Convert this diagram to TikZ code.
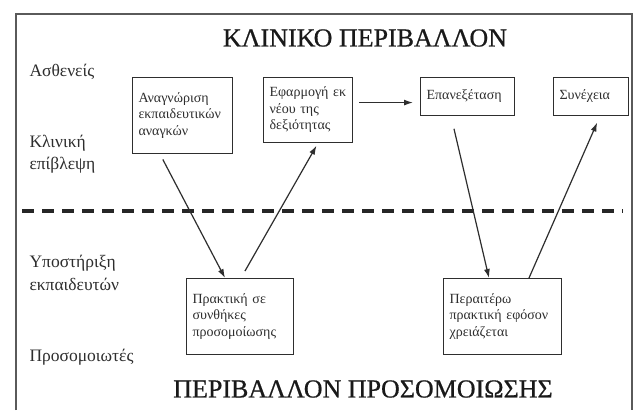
\documentclass[tikz,border=0pt]{standalone}
\usepackage{fontspec}
\setmainfont{Liberation Serif}
\newfontfamily\headfont[FakeBold=0.6]{Liberation Serif}
\usepackage{xcolor}
\usetikzlibrary{arrows.meta,calc}

\definecolor{inkgray}{HTML}{2E2E2E}
\definecolor{framegray}{HTML}{5A5A5A}

\tikzset{
    stage/.style={draw=inkgray, line width=1.1pt, rectangle, anchor=north west,
        align=left, inner xsep=6pt, text=inkgray, font=\fontsize{14}{16.5}\selectfont},
    sidelabel/.style={anchor=west, align=left, text=inkgray, font=\fontsize{17.5}{22.5}\selectfont},
    envtitle/.style={text=black!90, font=\headfont\fontsize{26}{30}\selectfont},
    flow/.style={draw=inkgray, line width=1.2pt, -{Latex[length=9pt,width=6pt]}}
}

\begin{document}
\begin{tikzpicture}[x=1pt, y=-1pt]
    \useasboundingbox (0,0) rectangle (635,410);
    \fill[white] (0,0) rectangle (635,410);

    % Frame
    \draw[framegray, line width=2pt] (16,410) -- (16,14) -- (632,14) -- (632,410);

    % Environments
    \node[envtitle] (clinic) at (365,38) {ΚΛΙΝΙΚΟ ΠΕΡΙΒΑΛΛΟΝ};
    \node[envtitle] (simenv) at (363,389) {ΠΕΡΙΒΑΛΛΟΝ ΠΡΟΣΟΜΟΙΩΣΗΣ};
    \draw[black!85, line width=4pt, dash pattern=on 12pt off 8pt] (22,211) -- (623,211);

    % Side labels
    \node[sidelabel] (patients) at (26,72) {Ασθενείς};
    \node[sidelabel] (supervision) at (26,154) {Κλινική\\επίβλεψη};
    \node[sidelabel] (trainers) at (26,273) {Υποστήριξη\\εκπαιδευτών};
    \node[sidelabel] (simulators) at (26,357) {Προσομοιωτές};

    % Stages
    \node[stage, text width=88pt, minimum height=76pt] (needs) at (132,77) {Αναγνώριση\\εκπαιδευτικών\\αναγκών};
    \node[stage, text width=77pt, minimum height=65pt] (apply) at (263,77) {Εφαρμογή εκ\\νέου της\\δεξιότητας};
    \node[stage, text width=82pt, minimum height=38pt] (review) at (420,77) {Επανεξέταση};
    \node[stage, text width=63pt, minimum height=38pt] (cont) at (553,77) {Συνέχεια};
    \node[stage, text width=95pt, minimum height=76pt] (practice) at (186,278) {Πρακτική σε\\συνθήκες\\προσομοίωσης};
    \node[stage, text width=106pt, minimum height=76pt] (further) at (443,278) {Περαιτέρω\\πρακτική εφόσον\\χρειάζεται};

    % Flow
    \draw[flow, shorten <=6pt] ([xshift=28pt]needs.south west) -- ([xshift=39pt]practice.north west);
    \draw[flow, shorten <=8pt, shorten >=3pt] ([xshift=55pt]practice.north west) -- ([xshift=55pt]apply.south west);
    \coordinate (a3) at ([yshift=7.5pt]apply.east);
    \draw[flow, shorten <=6pt, shorten >=7pt] (a3) -- (a3 -| review.west);
    \draw[flow, shorten <=13pt] ([xshift=31pt]review.south west) -- ([xshift=46pt]further.north west);
    \draw[flow, shorten >=7pt] ([xshift=86pt]further.north west) -- ([xshift=47pt]cont.south west);

\end{tikzpicture}
\end{document}
